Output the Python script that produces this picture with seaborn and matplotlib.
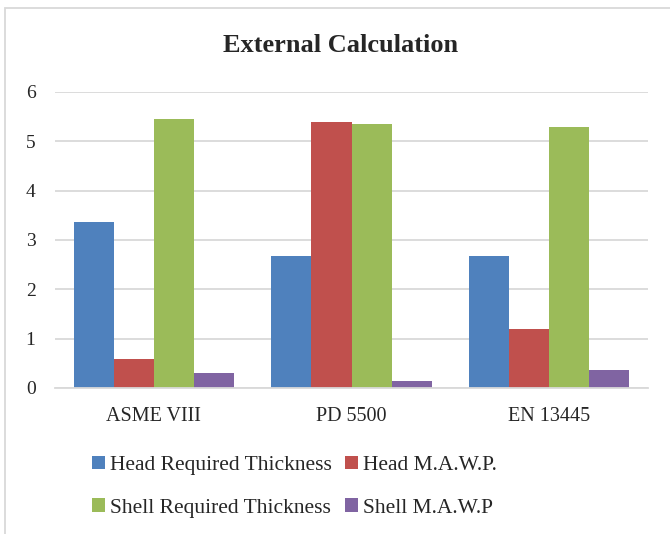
import matplotlib
matplotlib.use("Agg")
import matplotlib.pyplot as plt
import seaborn as sns
import pandas as pd
from matplotlib.patches import Rectangle

categories = ["ASME VIII", "PD 5500", "EN 13445"]
series = ["Head Required Thickness", "Head M.A.W.P.", "Shell Required Thickness", "Shell M.A.W.P"]
head_thk = [3.37, 2.67, 2.67]
head_mawp = [0.59, 5.40, 1.19]
shell_thk = [5.45, 5.35, 5.30]
shell_mawp = [0.30, 0.14, 0.37]
colors = ["#4F81BD", "#C0504D", "#9BBB59", "#8064A2"]
yticks = [0, 1, 2, 3, 4, 5, 6]

rows = []
for name, vals in zip(series, [head_thk, head_mawp, shell_thk, shell_mawp]):
    for c, v in zip(categories, vals):
        rows.append({"Standard": c, "Series": name, "Value": v})
df = pd.DataFrame(rows)

sns.set_theme(style="white")
plt.rcParams["font.family"] = ["Liberation Serif", "DejaVu Serif"]

W, H = 670, 534
fig = plt.figure(figsize=(W / 100, H / 100), dpi=100)
ax = fig.add_axes([55 / W, (H - 388) / H, 593 / W, 296 / H])

sns.barplot(data=df, x="Standard", y="Value", hue="Series", hue_order=series,
            order=categories, palette=colors, width=0.81, ax=ax,
            saturation=1, edgecolor="none", linewidth=0, legend=True)

ax.set_ylim(0, 6)
ax.set_yticks(yticks)
ax.set_yticklabels([str(t) for t in yticks], fontsize=14)
ax.yaxis.grid(True, color="#D9D9D9", linewidth=1.3)
ax.set_axisbelow(True)
for s in ["top", "right", "left"]:
    ax.spines[s].set_visible(False)
ax.spines["bottom"].set_color("#D9D9D9")
ax.spines["bottom"].set_linewidth(1.3)
ax.tick_params(axis="y", length=0, pad=14)
ax.tick_params(axis="x", length=0, pad=14, labelsize=14.5)
ax.set_xlabel("")
ax.set_ylabel("")

fig.text(341 / W, (H - 45) / H, "External Calculation", ha="center", va="center",
         fontsize=19, fontweight="bold")

handles, labels = ax.get_legend_handles_labels()
ax.legend_.remove()
order = [0, 2, 1, 3]
fig.legend([handles[i] for i in order], [labels[i] for i in order], ncol=2,
           loc="upper left",
           bbox_to_anchor=(81 / W, (H - 445) / H), frameon=False,
           fontsize=15.5, handlelength=0.6, handleheight=0.6,
           handletextpad=0.25, columnspacing=0.6, labelspacing=1.07,
           borderpad=0)

fig.patches.append(Rectangle((5 / W, -0.1), 1.2, (H - 8) / H + 0.1,
                             transform=fig.transFigure, fill=False,
                             edgecolor="#D9D9D9", linewidth=1.3))

fig.savefig("out.png", dpi=100)
